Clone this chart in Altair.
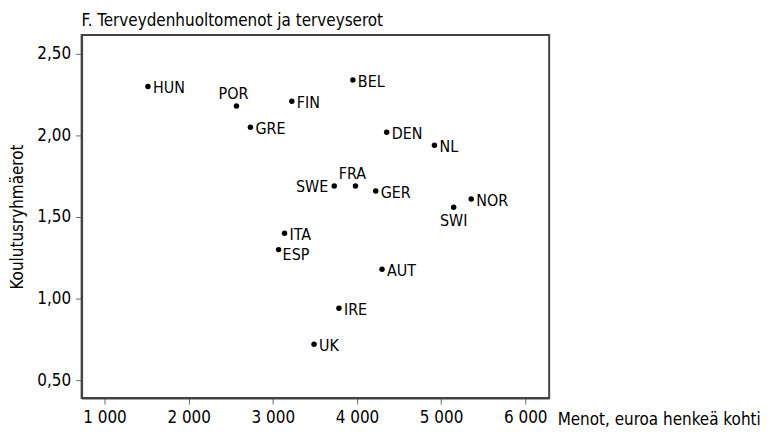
import altair as alt
import pandas as pd

countries = ["HUN", "POR", "GRE", "FIN", "BEL", "DEN", "NL", "NOR", "SWI", "GER",
             "SWE", "FRA", "ITA", "ESP", "AUT", "IRE", "UK"]
spending = [1516, 2568, 2734, 3226, 3951, 4353, 4921, 5358, 5149, 4223,
            3730, 3982, 3139, 3069, 4298, 3786, 3490]
inequality = [2.30, 2.18, 2.05, 2.21, 2.34, 2.02, 1.94, 1.61, 1.56, 1.66,
              1.69, 1.69, 1.40, 1.30, 1.18, 0.94, 0.72]

above = ["POR", "FRA"]
left = ["SWE"]
below = ["SWI"]
lower_right = ["ESP"]

x_ticks = [1000, 2000, 3000, 4000, 5000, 6000]
y_ticks = [0.5, 1.0, 1.5, 2.0, 2.5]

df = pd.DataFrame({"maa": countries, "menot": spending, "erot": inequality})

FONT = "DejaVu Sans Condensed, Liberation Sans, sans-serif"

x = alt.X("menot:Q",
          scale=alt.Scale(domain=[728, 6284], nice=False, zero=False),
          axis=alt.Axis(values=x_ticks, grid=False,
                        labelExpr="replace(format(datum.value, ',d'), ',', ' ')",
                        title="Menot, euroa henkeä kohti",
                        titleAnchor="start", titleAlign="left", titleBaseline="alphabetic",
                        titleX=478, titleY=27, titleFontWeight="normal"))
y = alt.Y("erot:Q",
          scale=alt.Scale(domain=[0.39, 2.616], nice=False, zero=False),
          axis=alt.Axis(values=y_ticks, grid=False,
                        labelExpr="replace(format(datum.value, '.2f'), '.', ',')",
                        title="Koulutusryhmäerot", titleFontWeight="normal",
                        titlePadding=10))

base = alt.Chart(df)

points = base.mark_circle(size=30, color="black", opacity=1).encode(x=x, y=y)

others = above + left + below + lower_right
right_lbl = base.transform_filter(
    alt.FieldOneOfPredicate(field="maa", oneOf=[c for c in countries if c not in others])
).mark_text(align="left", baseline="middle", dx=5, dy=2, fontSize=16, font=FONT,
            color="black").encode(x=x, y=y, text="maa:N")
lower_right_lbl = base.transform_filter(
    alt.FieldOneOfPredicate(field="maa", oneOf=lower_right)
).mark_text(align="left", baseline="middle", dx=4, dy=5, fontSize=16, font=FONT,
            color="black").encode(x=x, y=y, text="maa:N")
above_lbl = base.transform_filter(
    alt.FieldOneOfPredicate(field="maa", oneOf=above)
).mark_text(align="center", baseline="alphabetic", dx=-3, dy=-7, fontSize=16, font=FONT,
            color="black").encode(x=x, y=y, text="maa:N")
left_lbl = base.transform_filter(
    alt.FieldOneOfPredicate(field="maa", oneOf=left)
).mark_text(align="right", baseline="middle", dx=-6, dy=1, fontSize=16, font=FONT,
            color="black").encode(x=x, y=y, text="maa:N")
below_lbl = base.transform_filter(
    alt.FieldOneOfPredicate(field="maa", oneOf=below)
).mark_text(align="center", baseline="top", dx=0, dy=6, fontSize=16, font=FONT,
            color="black").encode(x=x, y=y, text="maa:N")

chart = alt.layer(points, right_lbl, lower_right_lbl, above_lbl, left_lbl, below_lbl).properties(
    width=470, height=365,
    title=alt.TitleParams("F. Terveydenhuoltomenot ja terveyserot", anchor="start",
                          frame="group",
                          font=FONT, fontSize=17, fontWeight="normal", color="black",
                          offset=5),
    autosize=alt.AutoSizeParams(type="none"),
    padding={"left": 74, "top": 26, "right": 225, "bottom": 30},
).configure_view(
    stroke="#444", strokeWidth=2
).configure_axis(
    domainColor="#444", domainWidth=2, tickColor="#666", tickSize=6,
    labelFont=FONT, labelFontSize=17, labelColor="black",
    titleFont=FONT, titleFontSize=17, titleColor="black",
    labelPadding=5
).configure_axisX(labelPadding=6)

chart.save("out.html", embed_options={"renderer": "svg", "actions": False})
